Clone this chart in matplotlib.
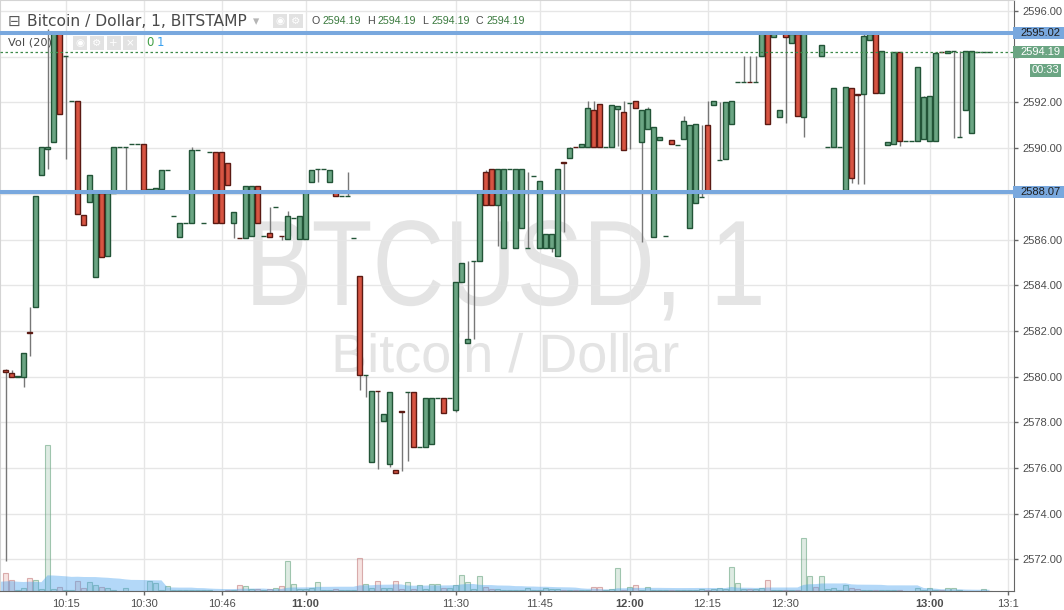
import numpy as np
import pandas as pd
import matplotlib
matplotlib.use("Agg")
import matplotlib.pyplot as plt
from matplotlib.patches import Rectangle, PathPatch
from matplotlib.textpath import TextPath
from matplotlib.font_manager import FontProperties
from matplotlib.transforms import Affine2D, IdentityTransform

plt.rcParams['font.family'] = ['DejaVu Sans']

# BTCUSD, Bitstamp, 1 minute candles (about 10:05 -> 13:10)
opens = [
    2580.31, 2580.17, 2580.00, 2580.00, 2581.96, 2583.03, 2588.81, 2589.95, 2590.25, 2595.02,
    2594.03, 2592.05, 2592.05, 2587.06, 2587.63, 2584.37, 2588.02, 2585.28, 2588.02, 2590.03,
    2590.03, 2590.18, 2590.18, 2590.18, 2588.18, 2588.15, 2588.22, 2589.03, 2587.02, 2586.12,
    2586.71, 2586.71, 2589.90, 2586.71, 2589.82, 2589.82, 2589.82, 2589.33, 2586.71, 2586.07,
    2586.05, 2586.14, 2588.33, 2586.14, 2586.27, 2587.41, 2586.16, 2586.04, 2586.93, 2586.04,
    2586.04, 2588.50, 2589.07, 2589.07, 2588.50, 2588.11, 2587.89, 2587.89, 2586.05, 2584.39,
    2580.06, 2576.25, 2579.38, 2578.04, 2576.16, 2575.90, 2578.48, 2579.31, 2579.31, 2576.91,
    2576.91, 2577.04, 2579.05, 2579.05, 2579.05, 2578.53, 2584.13, 2581.48, 2585.05, 2585.05,
    2588.94, 2589.07, 2587.50, 2585.61, 2589.07, 2585.61, 2586.49, 2585.61, 2588.77, 2585.61,
    2585.61, 2585.61, 2585.28, 2589.38, 2589.55, 2590.05, 2590.03, 2590.03, 2591.65, 2591.92,
    2590.03, 2590.03, 2591.70, 2591.57, 2591.96, 2592.05, 2590.25, 2590.82, 2586.10, 2590.34,
    2586.14, 2590.34, 2590.12, 2590.39, 2586.50, 2587.60, 2587.85, 2591.00, 2591.87, 2589.47,
    2589.51, 2591.04, 2592.88, 2592.88, 2592.90, 2592.88, 2594.02, 2595.02, 2594.85, 2591.35,
    2595.02, 2594.59, 2594.98, 2591.35, 2595.02, 2595.04, 2594.02, 2590.03, 2590.03, 2590.03,
    2588.15, 2592.62, 2592.36, 2592.36, 2594.72, 2595.02, 2592.40, 2590.12, 2590.17, 2594.19,
    2590.30, 2590.30, 2590.30, 2590.39, 2590.30, 2590.30, 2594.21, 2594.15, 2594.24, 2590.47,
    2591.65, 2590.65, 2594.19, 2594.19, 2594.19,
]
highs = [
    2580.35, 2580.27, 2580.00, 2581.02, 2583.05, 2587.90, 2590.03, 2595.20, 2595.10, 2595.10,
    2594.03, 2592.05, 2592.05, 2587.06, 2588.81, 2588.02, 2588.02, 2588.02, 2590.03, 2590.03,
    2590.03, 2590.18, 2590.18, 2590.18, 2588.18, 2588.24, 2589.03, 2589.03, 2587.02, 2586.71,
    2586.71, 2590.03, 2589.90, 2586.71, 2589.82, 2589.82, 2589.82, 2589.33, 2587.19, 2586.07,
    2588.33, 2588.33, 2588.33, 2586.14, 2587.41, 2587.41, 2586.16, 2587.25, 2586.93, 2587.02,
    2588.07, 2589.03, 2589.07, 2589.07, 2589.03, 2588.11, 2587.89, 2588.95, 2586.05, 2584.39,
    2580.06, 2579.36, 2579.38, 2578.35, 2579.31, 2575.90, 2578.48, 2579.31, 2579.31, 2576.91,
    2579.05, 2579.05, 2579.05, 2579.05, 2579.05, 2584.13, 2584.96, 2585.05, 2585.05, 2588.02,
    2589.05, 2589.07, 2589.07, 2589.07, 2589.07, 2589.07, 2589.07, 2588.95, 2588.77, 2588.55,
    2586.23, 2586.23, 2589.07, 2589.38, 2590.03, 2590.05, 2590.17, 2592.06, 2592.06, 2591.92,
    2590.03, 2591.87, 2591.83, 2592.05, 2591.96, 2592.05, 2591.65, 2591.80, 2590.91, 2590.47,
    2586.14, 2590.34, 2590.12, 2591.40, 2591.00, 2591.04, 2591.00, 2592.05, 2592.05, 2592.00,
    2592.00, 2592.05, 2592.88, 2594.03, 2594.03, 2594.03, 2595.07, 2595.02, 2595.02, 2591.65,
    2595.02, 2594.98, 2594.98, 2595.07, 2595.02, 2595.04, 2594.50, 2590.03, 2592.62, 2590.03,
    2592.66, 2592.62, 2592.36, 2595.02, 2594.98, 2595.02, 2594.24, 2590.25, 2594.19, 2594.19,
    2590.30, 2590.30, 2593.54, 2592.30, 2592.27, 2594.15, 2594.21, 2594.24, 2594.24, 2594.24,
    2594.24, 2594.24, 2594.19, 2594.19, 2594.19,
]
lows = [
    2571.93, 2580.00, 2580.00, 2579.56, 2580.92, 2583.03, 2588.81, 2589.07, 2590.25, 2591.48,
    2589.51, 2592.05, 2587.10, 2586.62, 2587.63, 2584.37, 2585.25, 2585.28, 2588.02, 2590.03,
    2588.18, 2590.18, 2590.18, 2588.18, 2588.18, 2588.05, 2588.22, 2589.03, 2587.02, 2586.12,
    2586.71, 2586.71, 2589.90, 2586.71, 2589.82, 2586.71, 2586.71, 2588.37, 2586.08, 2586.05,
    2586.05, 2586.14, 2586.71, 2586.14, 2586.12, 2587.41, 2586.00, 2586.04, 2586.93, 2586.04,
    2586.04, 2588.50, 2588.53, 2589.07, 2588.50, 2587.89, 2587.89, 2587.89, 2586.05, 2579.41,
    2579.09, 2576.25, 2575.94, 2578.04, 2576.05, 2575.77, 2575.85, 2576.29, 2576.91, 2576.91,
    2576.91, 2577.04, 2579.05, 2578.39, 2579.05, 2578.45, 2584.13, 2581.48, 2581.66, 2585.05,
    2587.50, 2587.50, 2585.73, 2585.61, 2589.07, 2585.61, 2586.49, 2585.61, 2588.77, 2585.61,
    2585.61, 2585.47, 2585.28, 2586.32, 2589.55, 2590.03, 2590.03, 2590.03, 2590.03, 2590.03,
    2590.03, 2590.03, 2590.08, 2589.90, 2589.95, 2591.74, 2585.90, 2590.82, 2586.10, 2590.34,
    2586.14, 2590.17, 2590.12, 2590.39, 2586.50, 2587.60, 2587.85, 2588.07, 2591.87, 2589.47,
    2589.51, 2591.04, 2592.88, 2592.88, 2592.88, 2592.88, 2594.02, 2591.04, 2594.85, 2591.35,
    2591.11, 2594.59, 2591.39, 2590.50, 2595.02, 2595.02, 2594.02, 2590.03, 2590.03, 2590.03,
    2588.15, 2588.46, 2588.42, 2588.42, 2594.72, 2592.40, 2592.40, 2590.12, 2590.17, 2590.08,
    2590.30, 2590.30, 2590.30, 2590.39, 2590.30, 2590.30, 2594.19, 2594.15, 2590.43, 2590.47,
    2591.65, 2590.65, 2594.19, 2594.19, 2594.19,
]
closes = [
    2580.20, 2580.00, 2580.00, 2581.02, 2581.89, 2587.90, 2590.03, 2590.03, 2595.02, 2591.48,
    2594.03, 2592.05, 2587.10, 2586.62, 2588.81, 2588.02, 2585.25, 2588.02, 2590.03, 2590.03,
    2590.03, 2590.18, 2590.18, 2588.18, 2588.18, 2588.24, 2589.03, 2589.03, 2587.02, 2586.71,
    2586.71, 2589.90, 2589.90, 2586.71, 2589.82, 2586.71, 2586.71, 2588.37, 2587.19, 2586.05,
    2588.33, 2588.33, 2586.71, 2586.14, 2586.12, 2587.41, 2586.14, 2587.02, 2586.93, 2587.02,
    2588.07, 2589.03, 2589.07, 2589.07, 2589.03, 2587.89, 2587.89, 2587.89, 2586.05, 2580.06,
    2580.06, 2579.36, 2579.36, 2578.35, 2579.31, 2575.77, 2578.46, 2579.31, 2576.91, 2576.91,
    2579.05, 2579.05, 2579.05, 2578.39, 2579.05, 2584.13, 2584.96, 2581.63, 2585.05, 2588.02,
    2587.50, 2587.50, 2589.07, 2589.07, 2589.07, 2589.07, 2589.07, 2585.61, 2588.77, 2588.55,
    2586.23, 2586.23, 2589.07, 2589.36, 2589.99, 2590.03, 2590.17, 2591.74, 2590.03, 2590.03,
    2590.03, 2591.87, 2591.83, 2589.90, 2591.96, 2591.74, 2591.65, 2591.70, 2590.91, 2590.47,
    2586.14, 2590.17, 2590.12, 2591.17, 2591.00, 2591.04, 2587.85, 2588.07, 2592.05, 2589.47,
    2592.00, 2592.05, 2592.88, 2592.88, 2592.88, 2592.88, 2595.07, 2591.04, 2595.02, 2591.65,
    2594.85, 2594.98, 2591.39, 2595.07, 2595.02, 2595.02, 2594.50, 2590.03, 2592.62, 2590.03,
    2592.66, 2588.68, 2592.34, 2594.89, 2594.98, 2592.40, 2594.24, 2590.25, 2594.19, 2590.30,
    2590.30, 2590.30, 2593.54, 2592.22, 2592.27, 2594.15, 2594.19, 2594.24, 2594.24, 2590.47,
    2594.24, 2594.24, 2594.19, 2594.19, 2594.19,
]
volume = [
    18, 10.7, 1, 2.7, 12.7, 10.7, 2, 146, 2, 3.7,
    1, 1, 10, 2.7, 9, 5.7, 3.7, 3, 1, 0.5,
    3, 0.5, 0.5, 0.5, 10, 8, 1, 4.7, 1, 1,
    1, 1, 1, 1, 1, 0.5, 0.5, 1, 1, 5.7,
    4.7, 2, 2, 1, 2, 3, 4.7, 30, 6.7, 2,
    2, 2.7, 9, 1.5, 1.5, 2, 1, 1, 1, 32.7,
    6.7, 3, 10, 3, 3, 10, 2, 9, 2, 5.7,
    2, 6.7, 6.7, 2.7, 2.7, 5.7, 16, 9, 2, 14.7,
    3.7, 2, 2, 1, 1, 1, 1, 2.7, 1, 1,
    2.7, 2, 2, 1, 1, 1, 1, 1.5, 3.7, 3.7,
    1, 2, 22.7, 1.5, 3.7, 5.7, 1, 3.7, 1, 1,
    1, 1, 1, 1, 1.5, 1.5, 2, 1.5, 2, 2.7,
    2, 23.7, 7.7, 2, 2, 2, 2.7, 10.7, 1, 1,
    1, 1, 1.5, 52.7, 14.7, 3.7, 14.7, 2, 2.7, 1.5,
    5.7, 2.7, 2, 1, 1, 1, 1, 1, 1, 1,
    0.5, 0.5, 3, 1, 3, 1, 1, 2.7, 2.7, 1,
    0.5, 0.5, 0.5, 2, 0.5,
]
# the minutes just before the first visible bar, only used by the Vol MA(20)
volume_before = [7, 12, 9, 6, 14, 8, 10, 5, 11, 9, 13, 7, 8, 10, 6, 12, 9, 11, 8]

time_ticks = [10, 23, 36, 50, 75, 89, 104, 117, 130, 154, 167]
time_labels = ["10:15", "10:30", "10:46", "11:00", "11:30", "11:45",
               "12:00", "12:15", "12:30", "13:00", "13:1"]
bold_labels = ["11:00", "12:00", "13:00"]
price_ticks = np.arange(2572, 2597, 2)

level_hi = 2595.02
level_lo = 2588.07
last_price = 2594.19
countdown = "00:33"

W, H = 1064, 610
fig = plt.figure(figsize=(W / 100, H / 100), dpi=100)
fig.set_facecolor("white")
ax = fig.add_axes([0, 19 / H, 1014 / W, 591 / H])
ymin, ymax = 2570.62, 2596.48
ax.set_xlim(-0.92, 168.08)
ax.set_ylim(ymin, ymax)

o = np.array(opens)
h = np.array(highs)
l = np.array(lows)
c = np.array(closes)
idx = np.arange(len(o))
up = c >= o

# volume + MA(20) overlay at the bottom of the price pane
vol = np.array(volume, dtype=float)
vol_top = 0.247 * (ymax - ymin)
vh = vol / vol.max() * vol_top
ax.bar(idx[up], vh[up], bottom=ymin, width=0.8, color=(0.42, 0.65, 0.51, 0.22),
       edgecolor=(0.42, 0.65, 0.51, 0.6), lw=0.8, zorder=2)
ax.bar(idx[~up], vh[~up], bottom=ymin, width=0.8, color=(0.84, 0.45, 0.42, 0.2),
       edgecolor=(0.75, 0.45, 0.45, 0.55), lw=0.8, zorder=2)
ma = pd.Series(volume_before + volume).rolling(20, min_periods=1).mean().to_numpy()
ma_x = np.arange(-len(volume_before), len(volume))
ax.fill_between(ma_x, ymin, ymin + ma / vol.max() * vol_top, color="#4aa3ef",
                alpha=0.42, lw=0, zorder=2.5)

# candles
lo = np.minimum(o, c)
body = np.maximum(np.abs(c - o), 0.012)
wick = (h - l) > 0.01
ax.vlines(idx[wick], l[wick], h[wick], color="#777777", lw=1, zorder=3)
ax.bar(idx[up], body[up], bottom=lo[up], width=0.72, color="#6ba583",
       edgecolor="#225437", lw=1, zorder=4)
ax.bar(idx[~up], body[~up], bottom=lo[~up], width=0.72, color="#d75442",
       edgecolor="#5b1a13", lw=1, zorder=4)

# drawn levels
ax.axhline(level_hi, color="#79a8de", lw=2.9, zorder=6)
ax.axhline(level_lo, color="#79a8de", lw=2.9, zorder=6)
ax.axhline(last_price, color="#3d8a4a", lw=0.9, ls=(0, (2, 2)), zorder=6)


# watermark, the big line is a narrow face -> squeeze a text path sideways
def watermark(text, cx, base_y, size, squeeze):
    tp = TextPath((0, 0), text, size=size, prop=FontProperties(family="Liberation Sans"))
    ext = tp.get_extents()
    tr = Affine2D().translate(-(ext.x0 + ext.x1) / 2, 0).scale(squeeze, 1)
    tr = tr.translate(cx, H - base_y)
    ax.add_patch(PathPatch(tr.transform_path(tp), transform=IdentityTransform(),
                           fc="#e4e4e4", ec="none", zorder=0.2))


watermark("BTCUSD, 1", 507, 305, 121.5, 0.82)
watermark("Bitcoin / Dollar", 507, 372, 54, 1.0)

# axes look
ax.set_yticks(price_ticks)
# labels under the price boxes are hidden, like on the screen
marks = [level_hi, level_lo, last_price]
ax.set_yticklabels(["" if min(abs(v - m) for m in marks) < 0.45 else f"{v:.2f}"
                    for v in price_ticks])
ax.yaxis.tick_right()
ax.set_xticks(time_ticks)
ax.set_xticklabels(time_labels)
ax.grid(True, color="#e6e6e6", lw=1)
ax.set_axisbelow(True)
ax.tick_params(axis="both", length=3, width=1, color="#666666", pad=3,
               labelsize=8, labelcolor="#4d4d4d")
for lab in ax.get_xticklabels() + ax.get_yticklabels():
    lab.set_fontfamily("Liberation Sans")
    if lab.get_text() in bold_labels:
        lab.set_fontweight("bold")
for s in ["left", "top"]:
    ax.spines[s].set_color("#d4d4d4")
for s in ["right", "bottom"]:
    ax.spines[s].set_color("#666666")


def fig_y(price):
    return fig.transFigure.inverted().transform(ax.transData.transform((0, price)))[1]


def price_box(price, text, fc, tc):
    y = fig_y(price)
    hh = 12 / H
    fig.add_artist(Rectangle((1013 / W, y - hh / 2), 51 / W, hh, transform=fig.transFigure,
                             fc=fc, ec="none", zorder=10))
    fig.text(1020 / W, y, text, color=tc, fontsize=8, family="Liberation Sans",
             va="center", ha="left", zorder=11)


price_box(level_hi, f"{level_hi:.2f}", "#79a8de", "#1e1e1e")
price_box(level_lo, f"{level_lo:.2f}", "#79a8de", "#1e1e1e")
price_box(last_price, f"{last_price:.2f}", "#6ba583", "white")
yc = fig_y(last_price) - 18 / H
fig.add_artist(Rectangle((1030 / W, yc - 6.5 / H), 31 / W, 13 / H, transform=fig.transFigure,
                         fc="#6ba583", ec="none", zorder=10))
fig.text(1045.5 / W, yc, countdown, color="white", fontsize=8, family="Liberation Sans",
         va="center", ha="center", zorder=11)

# legend rows (top left)
renderer = fig.canvas.get_renderer()


def run_text(x, y, pieces, **kw):
    for txt, col, gap in pieces:
        t = fig.text(x / W, 1 - y / H, txt, color=col, va="center", ha="left", zorder=12, **kw)
        x += t.get_window_extent(renderer).width + gap


def icon(x, y, glyph):
    fig.add_artist(Rectangle((x / W, 1 - (y + 14) / H), 14 / W, 14 / H,
                             transform=fig.transFigure, fc="#e2e2e2", ec="none", zorder=11))
    fig.text((x + 7) / W, 1 - (y + 7) / H, glyph, color="white", fontsize=7.5,
             ha="center", va="center", zorder=12)


fig.text(8 / W, 1 - 21.5 / H, "⊟", color="#5a5a5a", fontsize=11, va="center", zorder=12)
run_text(27, 21.5, [("Bitcoin / Dollar, 1, BITSTAMP", "#4a4a4a", 4)], fontsize=11.2)
fig.text(253 / W, 1 - 21.5 / H, "▾", color="#b5b5b5", fontsize=9, va="center", zorder=12)
icon(273, 14, "◉")
icon(289, 14, "⚙")
val = f"{last_price:.2f}"
run_text(311, 21.5, [("O", "#4a4a4a", 3.5), (val, "#3a7a3e", 5.5), ("H", "#4a4a4a", 3.5),
                     (val, "#3a7a3e", 5.5), ("L", "#4a4a4a", 3.5), (val, "#3a7a3e", 5.5),
                     ("C", "#4a4a4a", 3.5), (val, "#3a7a3e", 0)],
         fontsize=7.7, family="Liberation Sans")

fig.text(8 / W, 1 - 42.7 / H, "Vol (20)", color="#4a4a4a", fontsize=8.2, va="center", zorder=12)
icon(73, 36, "◉")
icon(89.5, 36, "⚙")
icon(106.5, 36, "+")
icon(123, 36, "×")
fig.text(146 / W, 1 - 42.7 / H, "0", color="#43a047", fontsize=8.5, va="center", zorder=12)
fig.text(157 / W, 1 - 42.7 / H, "1", color="#3ba0ee", fontsize=8.5, va="center", zorder=12)

fig.savefig("out.png", dpi=100)
